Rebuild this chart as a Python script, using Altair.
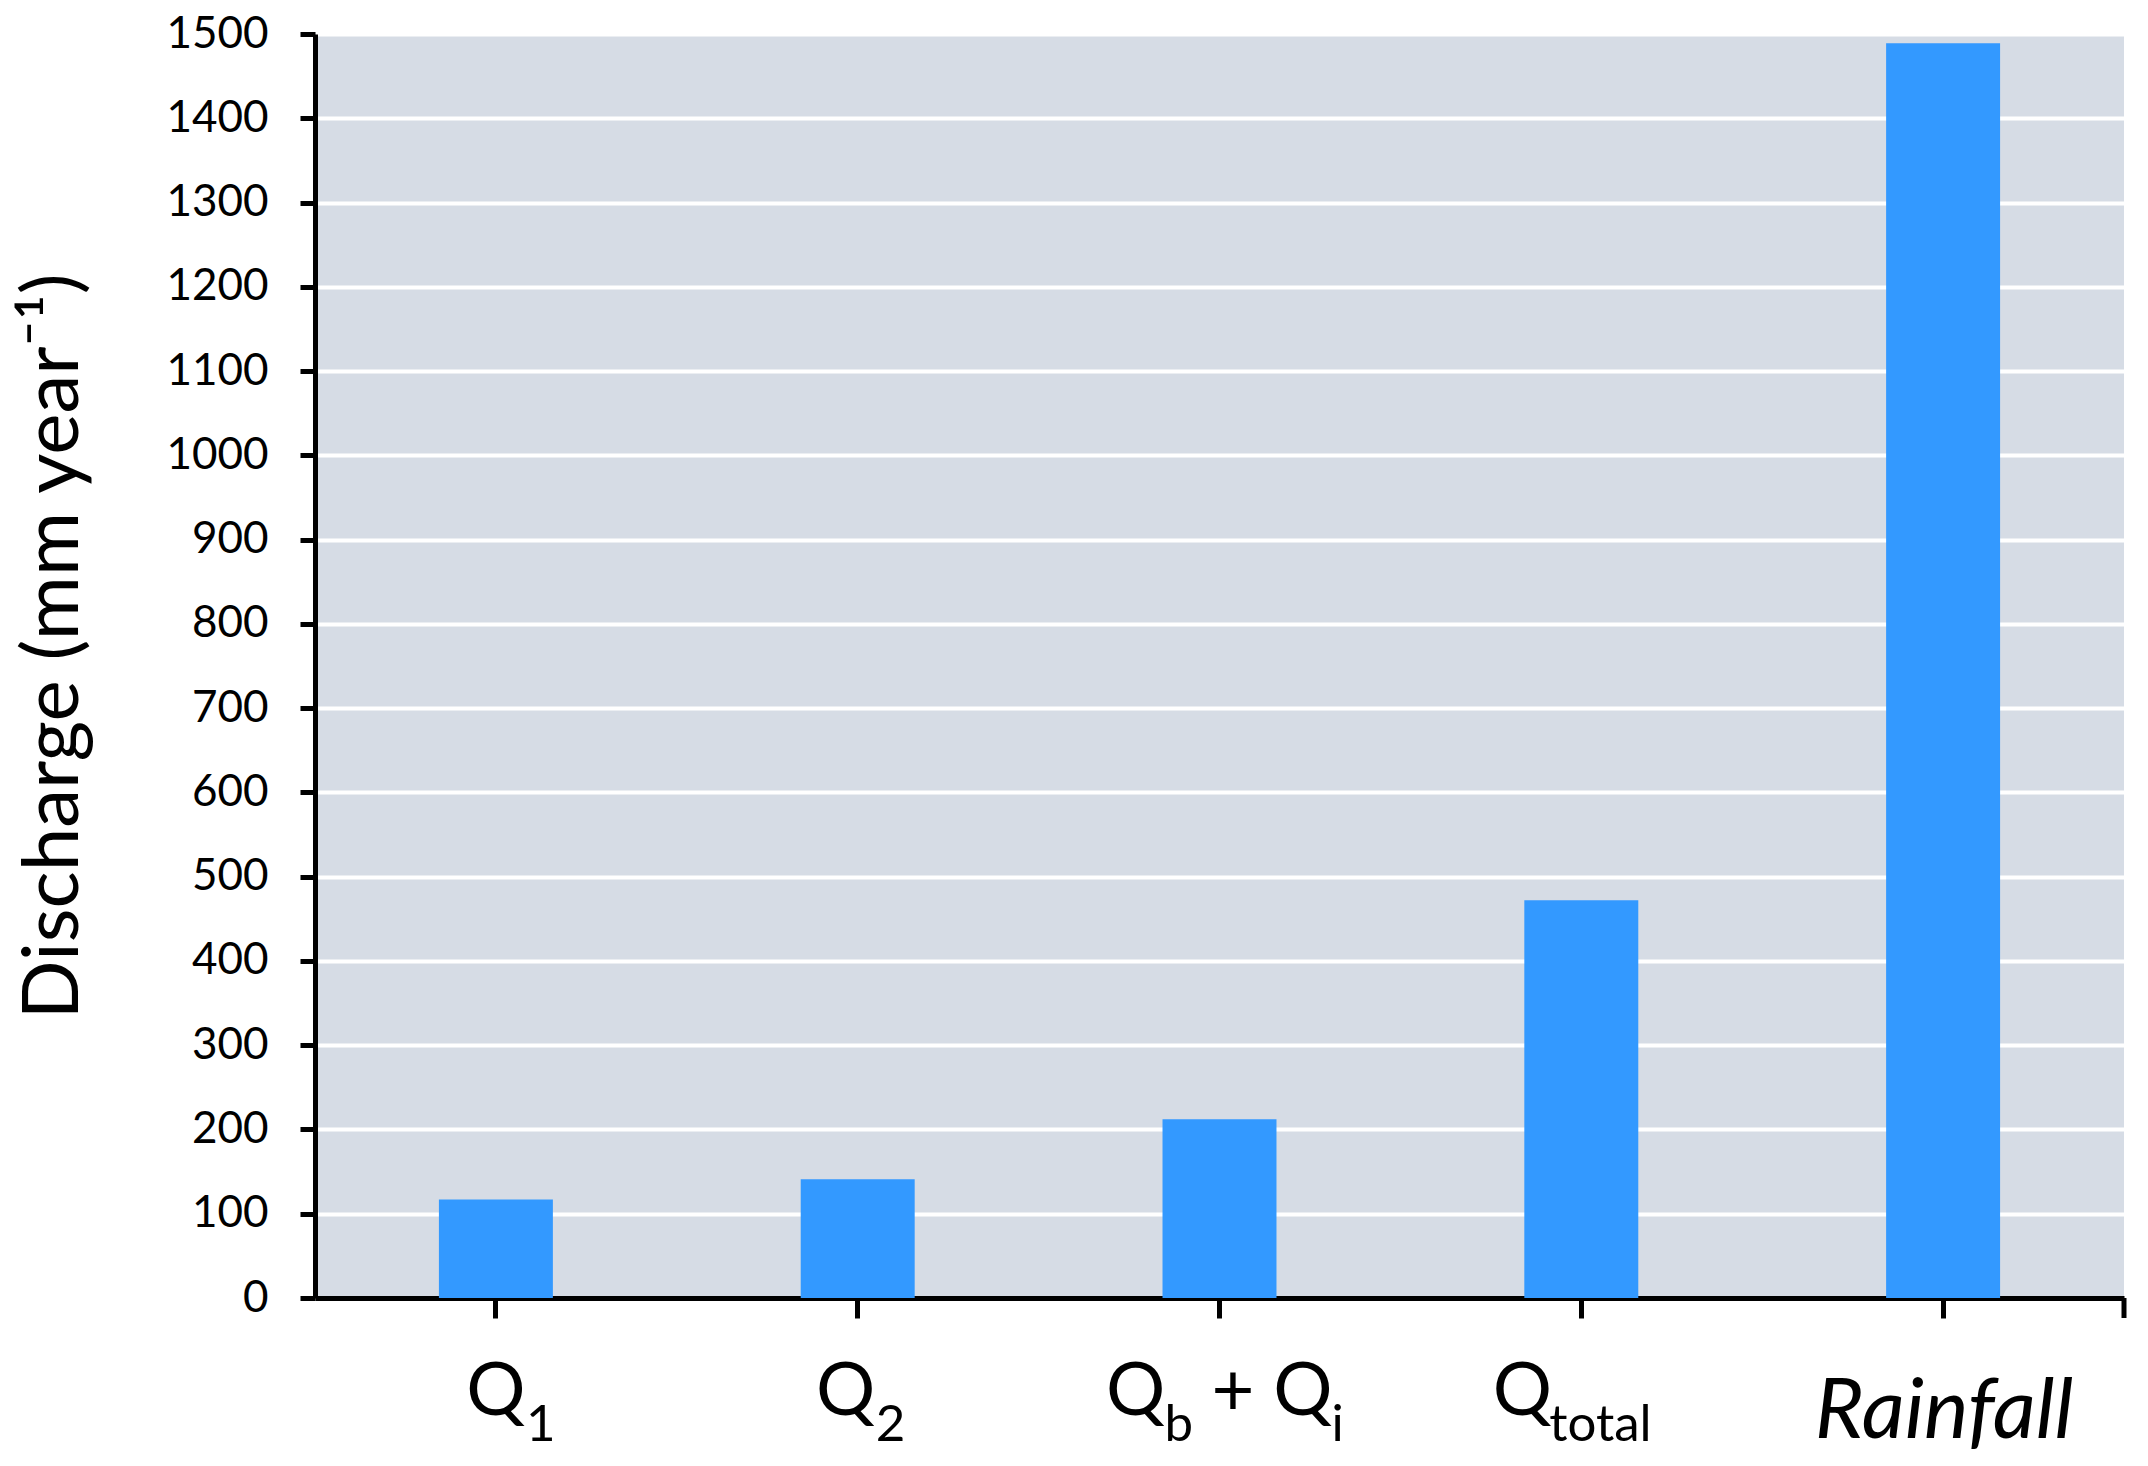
import altair as alt
import pandas as pd

# ---- data ----
categories = ["Q1", "Q2", "Qb + Qi", "Qtotal", "Rainfall"]
values = [117, 141, 212, 472, 1489]
main_text = ["Q", "Q", "Q", "Q", "Rainfall"]
sub_text = ["1", "2", "b", "total", ""]
second_main = ["", "", "+ Q", "", ""]
second_sub = ["", "", "i", "", ""]
y_ticks = list(range(0, 1501, 100))
y_title = "Discharge (mm year⁻¹)"

df = pd.DataFrame({
    "cat": categories,
    "value": values,
    "main": main_text,
    "sub": sub_text,
    "main2": second_main,
    "sub2": second_sub,
})

# ---- style ----
W, H = 1809, 1264
FONT = "Lato"
BAR = "#3399FF"
BG = "#D6DCE5"
MAIN_FS, SUB_FS, RAIN_FS = 74, 51, 84
MAIN_Y, SUB_Y, RAIN_Y = H + 117, H + 143, H + 140

base = alt.Chart(df).encode(
    x=alt.X(
        "cat:N",
        scale=alt.Scale(domain=categories, paddingInner=0.685, paddingOuter=0.3425),
        axis=alt.Axis(
            title=None, labels=False, ticks=True, tickSize=20, tickWidth=5,
            tickColor="black", domain=True, domainColor="black", domainWidth=5,
            grid=False,
        ),
    )
)

bars = base.mark_bar(color=BAR).encode(
    y=alt.Y(
        "value:Q",
        scale=alt.Scale(domain=[0, 1500], nice=False),
        axis=alt.Axis(
            values=y_ticks, format="d", title=y_title, grid=True, gridColor="white",
            gridWidth=4, domainColor="black", domainWidth=5, tickColor="black",
            tickWidth=5, tickSize=15, labelFontSize=44, labelPadding=32,
            labelColor="black", labelFont=FONT, titleFont=FONT, titleFontSize=78,
            titleFontWeight="normal", titleColor="black", titlePadding=72,
            titleY=612,
        ),
    )
)

# label pieces: (field, align, dx, y, size, style)
pieces = {
    0: [("main", "center", 0, MAIN_Y, MAIN_FS, "normal"),
        ("sub", "left", 30, SUB_Y, SUB_FS, "normal")],
    1: [("main", "center", -12, MAIN_Y, MAIN_FS, "normal"),
        ("sub", "left", 18, SUB_Y, SUB_FS, "normal")],
    2: [("main", "center", -84, MAIN_Y, MAIN_FS, "normal"),
        ("sub", "left", -55, SUB_Y, SUB_FS, "normal"),
        ("main2", "left", -8, MAIN_Y, MAIN_FS, "normal"),
        ("sub2", "left", 112, SUB_Y, SUB_FS, "normal")],
    3: [("main", "center", -59, MAIN_Y, MAIN_FS, "normal"),
        ("sub", "left", -32, SUB_Y, SUB_FS, "normal")],
    4: [("main", "center", 1, RAIN_Y, RAIN_FS, "italic")],
}

layers = [bars]
for i, plist in pieces.items():
    for field, align, dx, yv, fs, fstyle in plist:
        layers.append(
            base.transform_filter(alt.datum.cat == categories[i])
            .mark_text(align=align, baseline="alphabetic", dx=dx, fontSize=fs,
                       font=FONT, fontStyle=fstyle, color="black")
            .encode(y=alt.value(yv), text=alt.Text(f"{field}:N"))
        )

end_tick = alt.Chart(pd.DataFrame({"k": [0]})).mark_rule(
    color="black", strokeWidth=5
).encode(x=alt.value(W), y=alt.value(H), y2=alt.value(H + 20))
layers.append(end_tick)

chart = (
    alt.layer(*layers)
    .properties(
        width=W, height=H,
        autosize=alt.AutoSizeParams(type="none"),
        padding={"left": 307, "top": 26, "right": 16, "bottom": 160},
        background="white",
    )
    .configure_view(fill=BG, strokeWidth=0)
)

chart.save("out.html", embed_options={"renderer": "svg", "actions": False})
